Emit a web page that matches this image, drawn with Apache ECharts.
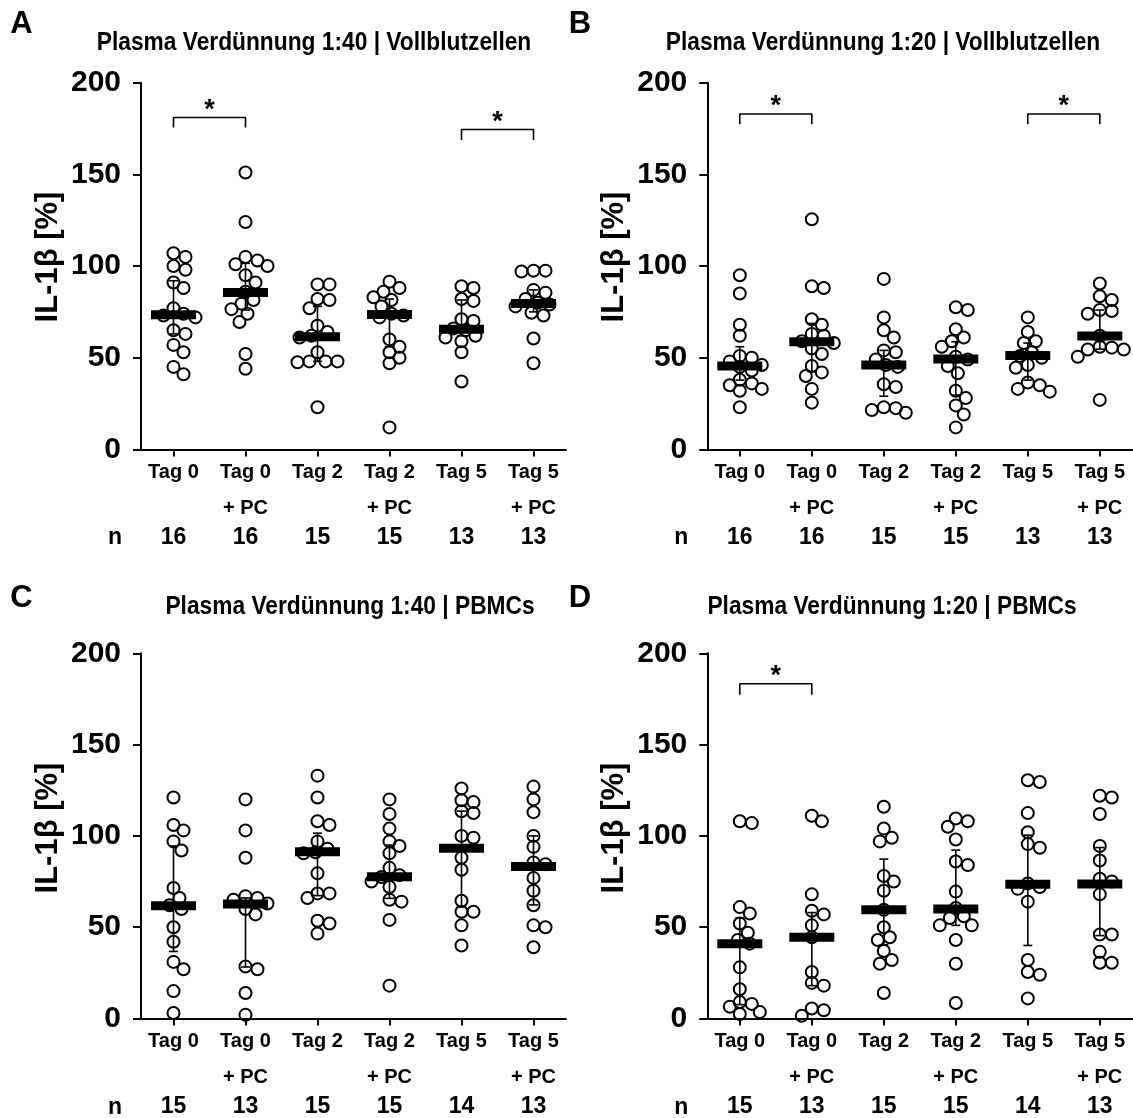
<!DOCTYPE html>
<html><head><meta charset="utf-8">
<script src="https://cdn.jsdelivr.net/npm/echarts@6/dist/echarts.min.js"></script>
<style>html,body{margin:0;padding:0;background:#fff}#c{width:1133px;height:1118px}</style>
</head><body><div id="c"></div>
<script>
// ---------- DATA ----------
const catLine1 = ['Tag 0','Tag 0','Tag 2','Tag 2','Tag 5','Tag 5'];
const catLine2 = ['', '+ PC', '', '+ PC', '', '+ PC'];
const yTickValues = [0, 50, 100, 150, 200];

// Panel A: Plasma 1:40, Vollblutzellen
const A_t0   = [107,105,100,98,91,88,77,74,73,72,65,63,57,53,45,41];
const A_t0pc = [151,124,105,103,101,100,95,91,86,81.5,79.5,76.5,74,69.5,52,44];
const A_t2   = [90,90,82,81.5,77,67.5,64,62,61,53,48,48,48,47.5,23];
const A_t2pc = [91.5,88,86,83,81.5,78,74,73,72,60,56,53,50,47,12];
const A_t5   = [89,88,82,81,71,70,66,65,62,61,59,53,37];
const A_t5pc = [97.5,97,97.5,87,85.5,82,80,79,78,74.5,73,60.5,47];
const A_med  = [73.5,85.6,61.5,73.6,65.5,79.6];
const A_q1   = [63,76,48,56,62,75];
const A_q3   = [92,101.5,78,82,81.5,87];
const A_n    = [16,16,15,15,13,13];
const A_brackets = [[1,2,181,175.5],[5,6,174.5,168.7]];

// Panel B: Plasma 1:20, Vollblutzellen
const B_t0   = [95,85,68,62,51,50,48,46,45,43,38,36,35,33,32,23];
const B_t0pc = [125.5,89,88,71,68,63,62,59,58,55,52,45.5,42,40,33,25.5];
const B_t2   = [93,72,65,61,54,53,49,46,45,35.5,34,23,22.5,21.5,20];
const B_t2pc = [77.5,76,65.5,61,59,56,50.5,49,45.5,41.5,32,28,24,19,12];
const B_t5   = [72,64,59,58,53,51,50,46,44.5,36.5,35,33,31.5];
const B_t5pc = [90.5,83.5,81.5,76,75.5,74,62,56,55.5,54.5,54.5,50.5,27];
const B_med  = [45.5,58.7,46,49.3,51.2,61.8];
const B_q1   = [37.8,42.4,29,29.6,37.8,54.7];
const B_q3   = [56,68.7,54,58.7,58,76];
const B_n    = [16,16,15,15,13,13];
const B_brackets = [[1,2,182.9,177.3],[5,6,182.9,177.3]];

// Panel C: Plasma 1:40, PBMCs
const C_t0   = [121,106,103,97,92,71.5,66,62,60,50,42,31,27,15,3];
const C_t0pc = [120,103,88,67,66,65,63,60,57,28.5,27,14,2];
const C_t2   = [133,121,108,106,97,93,91,90.5,79.5,68.5,68.5,66,53.5,52,46.5];
const C_t2pc = [120,112,104,97,94.5,90.5,82.5,78.5,77.5,75,72,65,64,54,18];
const C_t5   = [126,119.5,118.5,113.5,112.5,100,99,88,81.5,64.5,58.5,58.5,51,40];
const C_t5pc = [127,120,113,100,94,85.5,84.5,77,70,62,51,50,39];
const C_med  = [61.8,62.7,91.3,77.6,93.3,83.3];
const C_q1   = [36.7,28.2,67.3,65.8,61,62.2];
const C_q3   = [94.5,66,101.5,95,113.6,100];
const C_n    = [15,13,15,15,14,13];
const C_brackets = [];

// Panel D: Plasma 1:20, PBMCs
const D_t0   = [108,107,61,57.5,52,47,43,41,28,16,9,8,6.5,3.5,2.5];
const D_t0pc = [111,108,68,59,57,51,44.5,25.5,19.5,18,5.5,4.5,1.5];
const D_t2   = [116,104,99,97,78,75,70,59.5,50,44.5,43,37,32,30,14];
const D_t2pc = [109.5,108,105,98,86,84,69.5,60.5,56,55,51,51,43,30,8.5];
const D_t5   = [130.5,129.5,112.5,102,95.5,93.5,74,72,71,64,32,25.5,24,11];
const D_t5pc = [122,121,112,94.5,86.5,76.5,75,68,46,46,36.5,30.5,30.5];
const D_med  = [40.9,44.5,59.5,60,73.5,73.6];
const D_q1   = [7.6,18,40.4,51,40,45.4];
const D_q3   = [55,58,87.3,92.2,100.4,93.6];
const D_n    = [15,13,15,15,14,13];
const D_brackets = [[1,2,183.3,177.3]];

const titles = ['Plasma Verdünnung 1:40 | Vollblutzellen','Plasma Verdünnung 1:20 | Vollblutzellen',
                'Plasma Verdünnung 1:40 | PBMCs','Plasma Verdünnung 1:20 | PBMCs'];
const letters = ['A','B','C','D'];
const yName = 'IL-1β [%]';

// ---------- LAYOUT ----------
const FONT = '"Liberation Sans", Arial, Helvetica, sans-serif';
const gridW = 425, gridH = 366.7;
const layout = [
  {left:141,   top:82.7,  letter:[21.5,24.5], title:[314,43],  yname:[48,257]},
  {left:707.3, top:82.7,  letter:[580,24.5],  title:[883,43],  yname:[614,257]},
  {left:141,   top:653.3, letter:[21.5,598],  title:[350,607], yname:[48,828]},
  {left:707.3, top:653.3, letter:[580,598],   title:[892,607], yname:[614,828]}
];
const panels = [
  {groups:[A_t0,A_t0pc,A_t2,A_t2pc,A_t5,A_t5pc], med:A_med, q1:A_q1, q3:A_q3, n:A_n, br:A_brackets},
  {groups:[B_t0,B_t0pc,B_t2,B_t2pc,B_t5,B_t5pc], med:B_med, q1:B_q1, q3:B_q3, n:B_n, br:B_brackets},
  {groups:[C_t0,C_t0pc,C_t2,C_t2pc,C_t5,C_t5pc], med:C_med, q1:C_q1, q3:C_q3, n:C_n, br:C_brackets},
  {groups:[D_t0,D_t0pc,D_t2,D_t2pc,D_t5,D_t5pc], med:D_med, q1:D_q1, q3:D_q3, n:D_n, br:D_brackets}
];
const pxPerX = 72, pxPerY = gridH / 200;
const xMin = 1 - 32.5 / pxPerX, xMax = xMin + gridW / pxPerX;

// deterministic beeswarm layout (horizontal spread only, capped width)
function swarm(vals, diam, maxOff) {
  const order = vals.map((v, i) => i).sort((a, b) => vals[b] - vals[a]);
  const placed = [], off = new Array(vals.length).fill(0);
  for (const i of order) {
    const y = vals[i] * pxPerY;
    let best = 0, bestScore = Infinity;
    for (let k = 0; ; k++) {
      const cand = (k % 2 === 1 ? 1 : -1) * Math.ceil(k / 2) * 2;
      if (Math.abs(cand) > maxOff) break;
      let minD = Infinity;
      placed.forEach(p => { minD = Math.min(minD, Math.hypot(p.x - cand, p.y - y)); });
      if (minD >= diam) { best = cand; bestScore = -1; break; }
      const score = -minD;
      if (score < bestScore) { bestScore = score; best = cand; }
    }
    placed.push({x: best, y}); off[i] = best;
  }
  return off;
}

const grids = [], xAxes = [], yAxes = [], series = [], graphics = [];
panels.forEach((p, pi) => {
  const L = layout[pi];
  grids.push({left: L.left, top: L.top, width: gridW, height: gridH});
  xAxes.push({
    type: 'value', gridIndex: pi, min: xMin, max: xMax,
    splitLine: {show: false},
    axisLine: {show: true, onZero: false, lineStyle: {color: '#000', width: 2}},
    axisTick: {show: true, customValues: [1,2,3,4,5,6], length: 7, lineStyle: {color: '#000', width: 2}},
    axisLabel: {
      customValues: [1,2,3,4,5,6], margin: 5, color: '#000',
      formatter: v => { const j = Math.round(v) - 1;
        return '{a|' + catLine1[j] + '}\n{a|' + (catLine2[j] || ' ') + '}\n{b|' + p.n[j] + '}'; },
      rich: {
        a: {fontFamily: FONT, fontWeight: 'bold', fontSize: 20, lineHeight: 36, color: '#000'},
        b: {fontFamily: FONT, fontWeight: 'bold', fontSize: 23, lineHeight: 22, color: '#000'}
      }
    }
  });
  yAxes.push({
    type: 'value', gridIndex: pi, min: 0, max: 200, interval: 50,
    splitLine: {show: false},
    axisLine: {show: true, lineStyle: {color: '#000', width: 2}},
    axisTick: {show: true, length: 8, lineStyle: {color: '#000', width: 2}},
    axisLabel: {margin: 20, color: '#000', fontFamily: FONT, fontWeight: 'bold', fontSize: 30,
      formatter: v => yTickValues.includes(v) ? String(v) : ''}
  });
  // median bars
  series.push({type: 'scatter', xAxisIndex: pi, yAxisIndex: pi, symbol: 'rect', symbolSize: [45, 9],
    itemStyle: {color: '#000', opacity: 1}, z: 2, silent: true,
    data: p.med.map((m, j) => [j + 1, m])});
  // IQR whiskers
  series.push({type: 'custom', xAxisIndex: pi, yAxisIndex: pi, z: 3, silent: true,
    encode: {x: 0, y: [1, 2]},
    data: p.q1.map((q, j) => [j + 1, q, p.q3[j]]),
    renderItem: (params, api) => {
      const x = api.value(0);
      const a = api.coord([x, api.value(1)]), b = api.coord([x, api.value(2)]);
      const hw = 4.5, st = {stroke: '#000', lineWidth: 1.6};
      return {type: 'group', children: [
        {type: 'line', shape: {x1: a[0], y1: a[1], x2: b[0], y2: b[1]}, style: st},
        {type: 'line', shape: {x1: a[0] - hw, y1: a[1], x2: a[0] + hw, y2: a[1]}, style: st},
        {type: 'line', shape: {x1: b[0] - hw, y1: b[1], x2: b[0] + hw, y2: b[1]}, style: st}
      ]};
    }});
  // individual points
  const pts = [];
  p.groups.forEach((g, j) => {
    const off = swarm(g, 11, 26);
    g.forEach((v, k) => pts.push([j + 1 + off[k] / pxPerX, v]));
  });
  series.push({type: 'scatter', xAxisIndex: pi, yAxisIndex: pi, symbol: 'circle', symbolSize: 12, z: 4,
    silent: true, itemStyle: {color: 'rgba(0,0,0,0)', borderColor: '#000', borderWidth: 2, opacity: 1},
    data: pts});
  // significance brackets
  p.br.forEach(b => {
    series.push({type: 'line', xAxisIndex: pi, yAxisIndex: pi, symbol: 'none', silent: true, z: 5,
      lineStyle: {color: '#000', width: 1.6, opacity: 1},
      data: [[b[0], b[3]], [b[0], b[2]], [b[1], b[2]], [b[1], b[3]]]});
    series.push({type: 'scatter', xAxisIndex: pi, yAxisIndex: pi, symbolSize: 1, silent: true, z: 5,
      itemStyle: {opacity: 0},
      label: {show: true, position: 'inside', formatter: '*', color: '#000', fontFamily: FONT,
        fontWeight: 'bold', fontSize: 27, opacity: 1},
      data: [[(b[0] + b[1]) / 2, b[2] + 4]]});
  });
  // texts
  graphics.push({type: 'text', x: L.letter[0], y: L.letter[1],
    style: {text: letters[pi], font: 'bold 31px ' + FONT, fill: '#000', align: 'center', verticalAlign: 'middle'}});
  graphics.push({type: 'text', x: L.title[0], y: L.title[1], scaleX: 0.91,
    style: {text: titles[pi], font: 'bold 25px ' + FONT, fill: '#000', align: 'center', verticalAlign: 'middle'}});
  graphics.push({type: 'text', x: L.yname[0], y: L.yname[1], rotation: Math.PI / 2,
    style: {text: yName, font: 'bold 31px ' + FONT, fill: '#000', align: 'center', verticalAlign: 'middle'}});
  graphics.push({type: 'text', x: L.left - 26, y: L.top + gridH + 88,
    style: {text: 'n', font: 'bold 23px ' + FONT, fill: '#000', align: 'center', verticalAlign: 'middle'}});
});

const chart = echarts.init(document.getElementById('c'), null, {renderer: 'canvas'});
chart.setOption({
  animation: false, backgroundColor: '#fff',
  grid: grids, xAxis: xAxes, yAxis: yAxes, series: series, graphic: graphics
});
</script></body></html>
